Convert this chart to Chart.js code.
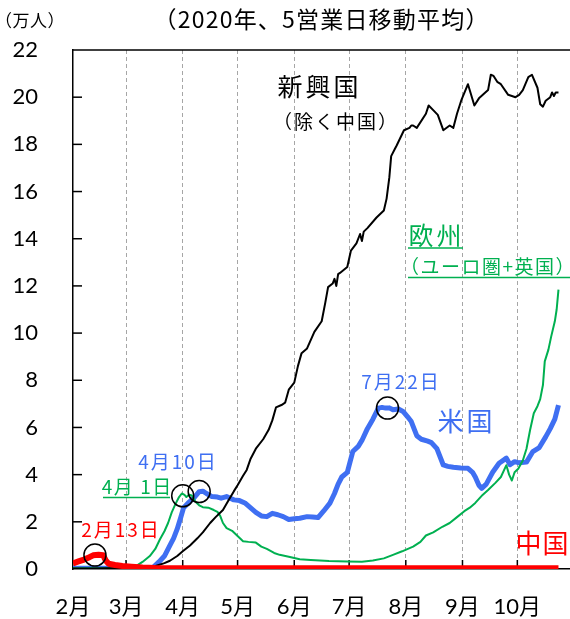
<!DOCTYPE html>
<html>
<head>
  <meta charset="utf-8">
  <title>新興国・欧州・米国・中国</title>
  <script src="https://cdn.jsdelivr.net/npm/chart.js@4/dist/chart.umd.min.js"></script>
  <style>
    html, body { margin: 0; padding: 0; background: #fff; }
    #wrap { width: 570px; height: 619px; position: relative; }
  </style>
</head>
<body>
<div id="wrap"><canvas id="chart"></canvas></div>
<script>
  // x = days counted from 2020-02-01
  var monthDays = [0, 29, 60, 90, 121, 151, 182, 213, 243];
  var monthLabels = ['2月', '3月', '4月', '5月', '6月', '7月', '8月', '9月', '10月'];
  var yTicks = [0, 2, 4, 6, 8, 10, 12, 14, 16, 18, 20, 22];

  // 新興国（除く中国）
  var emDays = [0, 10, 20, 30, 38, 44, 46, 50, 53, 57, 60, 64, 68, 71, 75, 78, 82, 85, 88, 90, 93, 95, 97, 100, 104, 107, 109, 111, 114, 116, 118, 121, 123, 125, 128, 132, 136, 138, 139.5, 142, 143, 144, 145, 146, 150, 152, 155, 157, 158, 159, 161, 166, 170, 171.5, 173, 174, 176, 177, 181, 184, 185, 186, 188, 193, 194.5, 197, 199.5, 202.5, 206, 208, 210, 212.5, 216, 219.5, 222, 227, 228.5, 230, 232, 234, 238, 242, 244, 246, 249, 251, 254, 255.5, 257, 258.5, 261, 262, 263, 264, 265.5];
  var emVals = [0.02, 0.02, 0.03, 0.03, 0.05, 0.1, 0.15, 0.25, 0.35, 0.55, 0.75, 1.0, 1.3, 1.55, 1.95, 2.2, 2.5, 2.9, 3.3, 3.55, 3.95, 4.2, 4.65, 5.1, 5.5, 5.9, 6.3, 6.85, 6.95, 7.05, 7.6, 7.9, 8.6, 9.15, 9.35, 10.05, 10.5, 11.3, 11.95, 12.1, 12.3, 12.0, 12.5, 12.55, 12.8, 13.5, 13.8, 14.2, 13.9, 14.3, 14.45, 14.9, 15.2, 15.7, 16.6, 17.5, 17.8, 17.95, 18.6, 18.7, 18.8, 18.8, 18.7, 19.3, 19.65, 19.45, 19.25, 18.6, 18.8, 18.7, 19.3, 19.9, 20.55, 19.65, 19.95, 20.3, 20.95, 20.9, 20.65, 20.55, 20.1, 20.0, 20.1, 20.3, 20.85, 20.95, 20.4, 19.7, 19.6, 19.85, 20.0, 20.2, 20.05, 20.2, 20.2];

  // 米国
  var usDays = [0, 20, 38, 44, 47, 50, 53, 55, 57, 59, 60.5, 63, 66, 69, 71, 73, 76, 79, 81, 84, 86, 88, 91, 94, 97, 100, 103, 106, 109, 112, 115, 118, 121, 124, 128, 131, 134, 137, 140.5, 143, 145, 147, 150, 153, 156, 158, 161, 164, 167, 169, 171, 173, 175, 178, 180.5, 183, 185, 188, 190.5, 194, 196, 199, 202.5, 205, 208, 212, 216, 218.5, 220, 222, 223.5, 226, 229.5, 233, 237, 239, 241.5, 244, 248, 251.5, 255, 258.5, 261, 263.5, 265.5];
  var usVals = [0.03, 0.03, 0.03, 0.08, 0.3, 0.55, 1.0, 1.3, 1.7, 2.2, 2.6, 2.8, 3.0, 3.28, 3.3, 3.2, 3.07, 3.05, 3.0, 3.07, 3.0, 2.93, 2.9, 2.8, 2.6, 2.4, 2.25, 2.22, 2.36, 2.3, 2.22, 2.1, 2.13, 2.15, 2.22, 2.2, 2.18, 2.45, 2.79, 3.2, 3.6, 3.9, 4.1, 4.98, 5.2, 5.45, 5.95, 6.35, 6.82, 6.85, 6.82, 6.83, 6.75, 6.78, 6.68, 6.45, 6.25, 5.65, 5.5, 5.42, 5.36, 5.1, 4.41, 4.35, 4.31, 4.28, 4.27, 4.1, 3.9, 3.55, 3.42, 3.6, 4.1, 4.48, 4.7, 4.42, 4.55, 4.5, 4.53, 4.98, 5.15, 5.6, 5.95, 6.35, 6.95];

  // 欧州（ユーロ圏+英国）
  var euDays = [0, 20, 30, 34, 38, 42, 45, 47.5, 50, 52, 54, 56, 58, 59.5, 61, 62, 63.5, 65, 67, 69, 71, 74, 77, 79, 80.5, 82, 84, 87, 90, 93, 96, 100, 103, 106, 110, 113, 118, 124, 130, 140, 150, 158, 164, 170, 175, 180, 186, 190, 193, 197, 202, 206, 210, 214, 217, 220, 224, 227, 231, 234, 237, 238.5, 240, 241.5, 243.5, 246, 248, 250, 252, 254, 255.5, 257, 258, 260, 261.5, 263.5, 264.5, 265.5];
  var euVals = [0.03, 0.03, 0.05, 0.1, 0.3, 0.55, 0.85, 1.25, 1.6, 1.95, 2.4, 2.75, 3.05, 3.2, 3.14, 3.05, 3.15, 3.12, 2.85, 2.7, 2.62, 2.6, 2.5, 2.42, 2.25, 1.95, 1.73, 1.62, 1.4, 1.18, 1.15, 1.12, 0.95, 0.85, 0.68, 0.6, 0.52, 0.41, 0.38, 0.34, 0.32, 0.31, 0.36, 0.45, 0.6, 0.75, 0.95, 1.15, 1.42, 1.55, 1.79, 1.95, 2.2, 2.45, 2.6, 2.8, 3.14, 3.35, 3.65, 3.9, 4.4, 4.0, 3.75, 4.1, 4.25, 4.6, 5.1, 5.9, 6.6, 6.9, 7.2, 7.8, 8.8, 9.3, 9.85, 10.5, 11.0, 11.84];

  // 中国
  var cnDays = [0, 3, 6, 9, 11, 14, 16.5, 18, 19.5, 23, 27, 32, 38, 45, 60, 265.5];
  var cnVals = [0.24, 0.32, 0.4, 0.5, 0.58, 0.6, 0.58, 0.35, 0.22, 0.17, 0.13, 0.1, 0.06, 0.04, 0.03, 0.03];

  var BLACK = '#000000';
  var GREEN = '#00b050';
  var BLUE = '#3f6ff2';
  var RED = '#ff0000';
  var JP = '"Noto Sans CJK JP"';

  function pts(days, vals) {
    return days.map(function (d, i) { return { x: d, y: vals[i] }; });
  }

  function line(ctx, x1, y1, x2, y2) {
    ctx.beginPath();
    ctx.moveTo(x1, y1);
    ctx.lineTo(x2, y2);
    ctx.stroke();
  }

  // spacing: extra px between glyphs (reference font runs wider than Noto)
  function label(ctx, text, x, y, size, color, spacing, align) {
    ctx.font = size + 'px ' + JP;
    ctx.fillStyle = color;
    ctx.letterSpacing = (spacing || 0) + 'px';
    ctx.textAlign = align || 'center';
    ctx.textBaseline = 'middle';
    var shift = (align === 'left') ? 0 : (spacing || 0) / 2;
    ctx.fillText(text, x + shift, y);
    ctx.letterSpacing = '0px';
  }

  var decor = {
    id: 'decor',
    beforeDatasetsDraw: function (chart) {
      var ctx = chart.ctx, a = chart.chartArea;
      var xs = chart.scales.x, ys = chart.scales.y;
      ctx.save();
      ctx.strokeStyle = BLACK;
      ctx.lineWidth = 1.5;
      line(ctx, a.left, a.top, 570, a.top);
      yTicks.forEach(function (v) {
        if (v > 0 && v < 22) {
          var y = ys.getPixelForValue(v);
          line(ctx, a.left, y, a.left + 9, y);
        }
      });
      monthDays.forEach(function (d) {
        if (d > 0) {
          var x = xs.getPixelForValue(d);
          line(ctx, x, a.bottom, x, a.bottom - 9);
        }
      });
      ctx.restore();
    },
    afterDatasetsDraw: function (chart) {
      var ctx = chart.ctx;
      var xs = chart.scales.x, ys = chart.scales.y;
      ctx.save();

      // 注目点の丸
      var marks = [[12, 0.59], [60, 3.1], [69, 3.28], [172, 6.82]];
      ctx.strokeStyle = BLACK;
      ctx.lineWidth = 1.5;
      marks.forEach(function (m) {
        ctx.beginPath();
        ctx.arc(xs.getPixelForValue(m[0]), ys.getPixelForValue(m[1]), 11, 0, Math.PI * 2);
        ctx.stroke();
      });

      label(ctx, '（2020年、5営業日移動平均）', 321, 19, 23, BLACK, 1.2);
      label(ctx, '（万人）', -5, 21, 17, BLACK, 0.5, 'left');

      label(ctx, '新興国', 318, 86, 25, BLACK, 3);
      label(ctx, '（除く中国）', 335, 122, 19, BLACK, 2);

      label(ctx, '欧州', 435, 235, 25, GREEN, 3);
      label(ctx, '（ユーロ圏+英国）', 400, 267, 19, GREEN, 1.5, 'left');
      label(ctx, '4月 1日', 136.5, 487, 19, GREEN, 1.5);
      ctx.strokeStyle = GREEN;
      ctx.lineWidth = 1.5;
      line(ctx, 408, 248, 463, 248);
      line(ctx, 408, 277.5, 570, 277.5);
      line(ctx, 103, 497.5, 170, 497.5);

      label(ctx, '4月10日', 177, 462, 19, BLUE, 2);
      label(ctx, '7月22日', 400, 382, 19, BLUE, 2);
      label(ctx, '米国', 465, 421, 26, BLUE, 3);

      label(ctx, '2月13日', 120, 530, 19, RED, 2);
      label(ctx, '中国', 542, 543, 26, RED, 1);

      ctx.restore();
    }
  };

  var ctx = document.getElementById('chart').getContext('2d');
  var chart = new Chart(ctx, {
    type: 'line',
    data: {
      datasets: [
        { label: '中国', data: pts(cnDays, cnVals), borderColor: RED, borderWidth: 6, order: 0 },
        { label: '新興国', data: pts(emDays, emVals), borderColor: BLACK, borderWidth: 2, order: 1 },
        { label: '欧州', data: pts(euDays, euVals), borderColor: GREEN, borderWidth: 2, order: 2 },
        { label: '米国', data: pts(usDays, usVals), borderColor: BLUE, borderWidth: 5, order: 3 }
      ]
    },
    options: {
      responsive: true,
      maintainAspectRatio: false,
      animation: false,
      elements: {
        point: { radius: 0 },
        line: { tension: 0, borderJoinStyle: 'round', borderCapStyle: 'butt', fill: false }
      },
      layout: { padding: { top: 50, left: 0, right: 0, bottom: 0 } },
      plugins: { legend: { display: false }, tooltip: { enabled: false } },
      scales: {
        x: {
          type: 'linear',
          min: 0,
          max: 271.8,
          afterBuildTicks: function (scale) {
            scale.ticks = monthDays.map(function (d) { return { value: d }; });
          },
          afterFit: function (scale) { scale.height = 50; },
          ticks: {
            autoSkip: false,
            maxRotation: 0,
            padding: 25,
            color: BLACK,
            font: { family: 'Lato, ' + JP, size: 22 },
            callback: function (v) { return monthLabels[monthDays.indexOf(v)]; }
          },
          grid: {
            drawTicks: false,
            lineWidth: 1,
            color: function (c) { return c.tick && c.tick.value === 0 ? 'rgba(0,0,0,0)' : '#a6a6a6'; }
          },
          border: { display: true, color: BLACK, width: 1.5, dash: [4, 3] }
        },
        y: {
          min: 0,
          max: 22,
          afterBuildTicks: function (scale) {
            scale.ticks = yTicks.map(function (v) { return { value: v }; });
          },
          afterFit: function (scale) { scale.width = 73; },
          ticks: {
            padding: 35,
            color: BLACK,
            font: { family: 'Lato, ' + JP, size: 22 }
          },
          grid: { display: false, drawTicks: false },
          border: { display: true, color: BLACK, width: 1.5 }
        }
      }
    },
    plugins: [decor]
  });
</script>
</body>
</html>
